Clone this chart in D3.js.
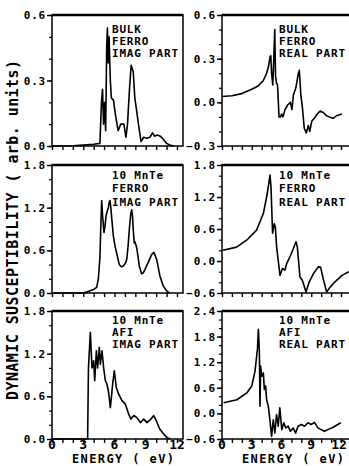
<!DOCTYPE html>
<html>
<head>
<meta charset="utf-8">
<script src="https://cdn.jsdelivr.net/npm/d3@7"></script>
<style>
  body { margin: 0; background: #fff; }
  svg { display: block; }
  text { font-family: "DejaVu Sans Mono", monospace; font-weight: bold; fill: #000; }
  .domain { display: none; }
</style>
</head>
<body>
<div id="chart"></div>
<script>
// energy (eV), susceptibility (arb. units) pairs
var bulkImag = [[0,0],[2,0.001],[3,0.004],[4,0.008],[4.6,0.012],[4.75,0.2],[4.85,0.26],[4.95,0.1],[5.05,0.2],[5.15,0.07],
  [5.25,0.45],[5.32,0.54],[5.4,0.38],[5.48,0.5],[5.6,0.3],[5.7,0.22],[5.9,0.21],[6.1,0.14],[6.35,0.07],[6.6,0.1],
  [6.9,0.1],[7.1,0.04],[7.25,0.1],[7.45,0.27],[7.6,0.37],[7.8,0.34],[7.95,0.22],[8.1,0.17],[8.3,0.1],[8.55,0.02],
  [8.8,0.04],[9.1,0.035],[9.4,0.04],[9.65,0.06],[9.85,0.045],[10.1,0.05],[10.4,0.045],[10.7,0.03],[11.0,0.012],
  [11.3,0.005],[11.7,0]];
var bulkReal = [[0,0.04],[1,0.045],[2,0.06],[3,0.09],[3.6,0.11],[4.17,0.15],[4.5,0.2],[4.7,0.25],[4.84,0.31],
  [4.92,0.32],[5.0,0.2],[5.12,0.12],[5.22,0.3],[5.32,0.5],[5.4,0.18],[5.5,0.13],[5.6,0.12],[5.75,-0.1],[5.9,-0.1],
  [6.02,-0.08],[6.15,-0.1],[6.35,-0.05],[6.6,-0.02],[6.9,0.0],[7.05,-0.05],[7.2,0.05],[7.45,0.1],[7.7,0.2],
  [7.8,0.22],[7.95,0.05],[8.1,-0.03],[8.3,-0.18],[8.5,-0.21],[8.7,-0.16],[8.85,-0.2],[9.05,-0.13],[9.3,-0.11],
  [9.6,-0.08],[9.9,-0.06],[10.2,-0.07],[10.5,-0.09],[10.8,-0.1],[11.2,-0.11],[11.6,-0.09],[12.1,-0.08]];
var ferroImag = [[0,0],[3,0],[3.65,0.03],[4.0,0.05],[4.29,0.08],[4.45,0.2],[4.6,0.5],[4.7,1.0],[4.77,1.3],
  [4.85,1.1],[4.99,0.85],[5.1,0.95],[5.18,1.08],[5.3,1.15],[5.41,1.2],[5.5,1.28],[5.57,1.3],[5.65,1.2],[5.73,1.06],
  [5.89,0.8],[6.05,0.66],[6.15,0.6],[6.27,0.52],[6.46,0.4],[6.65,0.37],[6.85,0.38],[7.05,0.42],[7.17,0.47],
  [7.3,0.65],[7.42,0.89],[7.55,1.1],[7.65,1.17],[7.72,1.1],[7.8,0.89],[7.9,0.7],[7.96,0.72],[8.13,0.64],
  [8.25,0.52],[8.38,0.38],[8.6,0.27],[8.75,0.28],[8.92,0.33],[9.24,0.43],[9.56,0.54],[9.79,0.57],[10.05,0.47],
  [10.36,0.24],[10.68,0.1],[11.0,0.03],[11.3,0]];
var ferroReal = [[0.1,0.2],[1.47,0.26],[2.48,0.39],[3.49,0.58],[4.17,0.89],[4.57,1.27],[4.84,1.61],[4.94,1.39],
  [5.1,0.52],[5.27,0.7],[5.38,0.64],[5.51,0.26],[5.85,-0.27],[6.09,-0.14],[6.35,-0.17],[6.52,-0.05],[6.85,0.08],
  [7.19,0.23],[7.46,0.36],[7.6,0.26],[7.86,-0.3],[8.1,-0.36],[8.27,-0.46],[8.47,-0.58],[8.8,-0.39],[9.21,-0.24],
  [9.71,-0.11],[9.95,-0.12],[10.2,-0.33],[10.55,-0.58],[10.9,-0.49],[11.4,-0.39],[12.1,-0.27],[12.8,-0.2]];
var afiImag = [[0,0],[3,0],[3.42,0],[3.5,1.0],[3.68,1.5],[3.84,1.0],[4.0,1.1],[4.1,0.82],[4.26,1.24],[4.38,1.0],
  [4.54,1.29],[4.64,1.05],[4.8,1.24],[4.96,1.0],[5.12,0.82],[5.28,0.77],[5.44,0.65],[5.6,0.44],[5.7,0.58],
  [5.82,0.77],[5.98,0.96],[6.18,0.72],[6.4,0.63],[6.72,0.54],[7.04,0.49],[7.36,0.35],[7.58,0.28],[7.84,0.33],
  [8.16,0.3],[8.48,0.23],[8.8,0.28],[9.12,0.23],[9.5,0.28],[9.76,0.33],[10.0,0.26],[10.34,0.14],[10.72,0.07],
  [11.04,0.02],[11.36,0]];
var afiReal = [[0.17,0.25],[1.5,0.32],[2.5,0.48],[3.0,0.64],[3.33,0.99],[3.57,1.5],[3.67,1.97],[3.77,1.42],
  [3.83,0.17],[3.9,1.11],[4.0,0.87],[4.17,0.95],[4.27,0.56],[4.4,0.64],[4.5,0.32],[4.67,0.17],[4.83,-0.15],
  [5.0,-0.54],[5.17,-0.15],[5.33,-0.46],[5.5,-0.03],[5.67,-0.3],[5.83,0.13],[6.03,-0.38],[6.23,-0.22],
  [6.43,-0.34],[6.67,-0.3],[6.9,-0.42],[7.17,-0.34],[7.43,-0.46],[7.67,-0.3],[8.0,-0.26],[8.33,-0.3],
  [8.67,-0.22],[9.0,-0.26],[9.33,-0.21],[9.67,-0.34],[10.0,-0.38],[10.33,-0.42],[10.67,-0.38],[11.17,-0.33],
  [11.67,-0.26],[12.0,-0.22]];

var energyTicks = [0, 3, 6, 9, 12];
var yLabelTicks = [
  [0, 0.3, 0.6], [-0.3, 0, 0.3, 0.6],
  [0, 0.6, 1.2, 1.8], [-0.6, 0, 0.6, 1.2, 1.8],
  [0, 0.6, 1.2, 1.8], [-0.6, 0, 0.6, 1.2, 1.8, 2.4]
];
var panelText = [
  ["BULK", "FERRO", "IMAG PART"], ["BULK", "FERRO", "REAL PART"],
  ["10 MnTe", "FERRO", "IMAG PART"], ["10 MnTe", "FERRO", "REAL PART"],
  ["10 MnTe", "AFI", "IMAG PART"], ["10 MnTe", "AFI", "REAL PART"]
];
var seriesList = [bulkImag, bulkReal, ferroImag, ferroReal, afiImag, afiReal];

var W = 349, H = 466;
var svg = d3.select("#chart").append("svg").attr("width", W).attr("height", H);

// layout of the 3x2 grid
var cols = [
  {x0: 52, x12: 177, right: 183, textX: 112},
  {x0: 222, x12: 341, right: 352, textX: 279}
];
var rows = [
  {top: 15, bottom: 146, base: [33, 45, 57], minor: 0.1},
  {top: 165, bottom: 293, base: [179, 192, 206], minor: 0.2},
  {top: 311, bottom: 439, base: [324, 336, 348], minor: 0.2}
];

seriesList.forEach(function(data, i) {
  var col = cols[i % 2], row = rows[Math.floor(i / 2)];
  var yt = yLabelTicks[i];
  var x = d3.scaleLinear().domain([0, 12]).range([col.x0, col.x12]);
  var y = d3.scaleLinear().domain([yt[0], yt[yt.length - 1]]).range([row.bottom, row.top]);
  var g = svg.append("g");

  // clip to the box
  var cid = "clip" + i;
  svg.append("clipPath").attr("id", cid).append("rect")
    .attr("x", col.x0).attr("y", row.top - 1)
    .attr("width", col.right - col.x0).attr("height", row.bottom - row.top + 2);

  // minor y ticks
  var minors = d3.range(Math.round(yt[0] / row.minor), Math.round(yt[yt.length - 1] / row.minor) + 1)
    .map(function(k) { return k * row.minor; });
  g.append("g").attr("transform", "translate(" + col.x0 + ",0)")
    .call(d3.axisLeft(y).tickValues(minors).tickSize(3).tickFormat(""))
    .selectAll("line").attr("stroke", "#000").attr("stroke-width", 1.2);

  // labelled y ticks
  var ya = g.append("g").attr("transform", "translate(" + col.x0 + ",0)")
    .call(d3.axisLeft(y).tickValues(yt).tickSize(5).tickPadding(1).tickFormat(d3.format(".1f")));
  ya.selectAll("line").attr("stroke", "#000").attr("stroke-width", 1.4);
  ya.selectAll("text").attr("font-size", 11).attr("letter-spacing", 0.8)
    .attr("font-family", "DejaVu Sans Mono").attr("font-weight", "bold").attr("fill", "#000");

  // x ticks, every 1 eV, pointing down
  var xa = g.append("g").attr("transform", "translate(0," + row.bottom + ")")
    .call(d3.axisBottom(x).tickValues(d3.range(0, 13)).tickSize(4).tickFormat(""));
  xa.selectAll("line").attr("stroke", "#000").attr("stroke-width", 1.4);

  if (row === rows[2]) {
    g.selectAll(".xl").data(energyTicks).enter().append("text")
      .attr("x", function(d) { return x(d); })
      .attr("dx", function(d) { return d === 12 && i % 2 ? -2 : 0; })
      .attr("y", 449)
      .attr("text-anchor", "middle")
      .attr("font-size", 13)
      .text(function(d) { return d; });
    g.append("text")
      .attr("x", x(0) + 20).attr("y", 463)
      .attr("font-size", 12)
      .attr("textLength", 102).attr("lengthAdjust", "spacing")
      .text("ENERGY ( eV)");
  }

  // box
  g.append("rect")
    .attr("x", col.x0).attr("y", row.top)
    .attr("width", col.right - col.x0).attr("height", row.bottom - row.top)
    .attr("fill", "none").attr("stroke", "#000").attr("stroke-width", 1.5);
  g.append("line")
    .attr("x1", col.x0).attr("x2", col.right)
    .attr("y1", row.top).attr("y2", row.top)
    .attr("stroke", "#000").attr("stroke-width", 2.5);

  // curve
  var line = d3.line().x(function(d) { return x(d[0]); }).y(function(d) { return y(d[1]); });
  g.append("path").datum(data)
    .attr("clip-path", "url(#" + cid + ")")
    .attr("d", line)
    .attr("fill", "none").attr("stroke", "#000").attr("stroke-width", 1.6)
    .attr("stroke-linejoin", "round");

  // panel annotation
  g.selectAll(".ann").data(panelText[i]).enter().append("text")
    .attr("x", col.textX)
    .attr("y", function(d, k) { return row.base[k]; })
    .attr("font-size", 11).attr("letter-spacing", 0.8)
    .text(function(d) { return d; });
});

// shared y title
svg.append("text")
  .attr("transform", "translate(18,230) rotate(-90)")
  .attr("text-anchor", "middle")
  .attr("font-size", 15)
  .attr("textLength", 340).attr("lengthAdjust", "spacing")
  .text("DYNAMIC SUSCEPTIBILITY ( arb. units)");
</script>
</body>
</html>
